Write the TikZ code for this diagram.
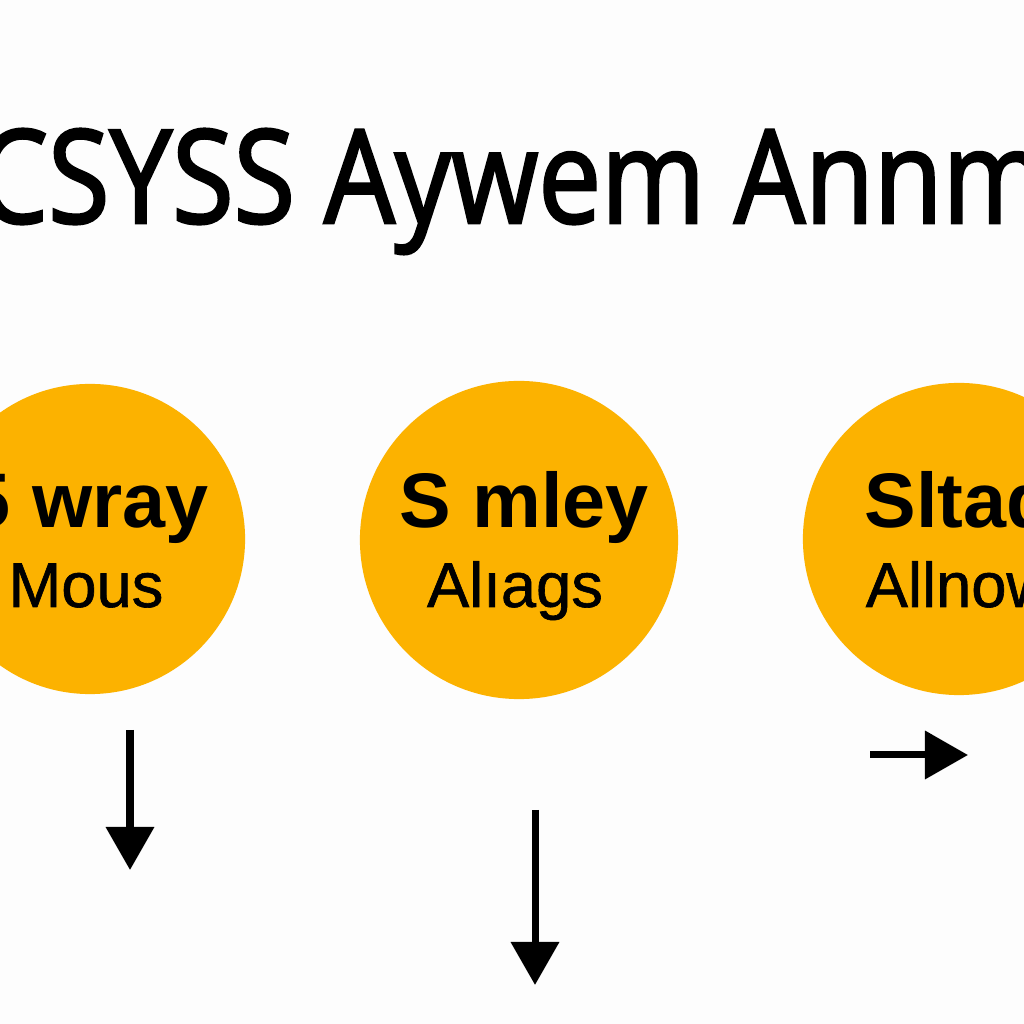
\documentclass[tikz,border=0pt]{standalone}
\usepackage{fontspec}
\usepackage{tikz}
\usetikzlibrary{arrows.meta, positioning}
\setmainfont{Liberation Sans}
\newfontfamily\titlefont{Open Sans}[FakeStretch=0.86, FakeBold=2]
\newfontfamily\subfont{Liberation Sans}[FakeBold=1]
\definecolor{stageamber}{RGB}{252,178,0}
\definecolor{pagewhite}{RGB}{253,253,253}

\begin{document}
\begin{tikzpicture}[
  x=0.01cm, y=0.01cm,
  stage/.style={circle, fill=stageamber, draw=none, inner sep=0pt},
  head/.style={font=\fontsize{22}{24}\selectfont\bfseries, anchor=base, inner sep=0pt},
  sub/.style={font=\subfont\fontsize{18}{20}\selectfont, anchor=base, inner sep=0pt},
  arrow/.style={-{Triangle[length=0.43cm, width=0.47cm]}, line width=0.07cm, black},
  title/.style={font=\titlefont\fontsize{37}{40}\selectfont, anchor=base, inner sep=0pt},
]
\useasboundingbox (0,0) rectangle (1024,1024);
\fill[pagewhite] (0,0) rectangle (1024,1024);
\clip (0,0) rectangle (1024,1024);

%% Title
\node[title] (title) at (512,801) {CSYSS Aywem Annm};

%% Stages
\node[stage, minimum size=3.10cm] (c1) at (90,485) {};
\node[stage, minimum size=3.18cm] (c2) at (519,484) {};
\node[stage, minimum size=3.12cm] (c3) at (959,485) {};

\node[head] (h1) at (88,496)  {5 wray};
\node[sub]  (s1) at (86,417)  {Mous};
\node[head] (h2) at (524,496) {S mley};
\node[sub]  (s2) at (515,417) {Alıags};
\node[head] (h3) at (959,496) {Sltad};
\node[sub]  (s3) at (959,417) {Allnow};

%% Arrows
\coordinate (a1) at (130,294);
\coordinate (b1) at (130,154);
\coordinate (a2) at (535,214);
\coordinate (b2) at (535,39);
\coordinate (a3) at (870,269);
\coordinate (b3) at (968,269);
\draw[arrow] (a1) -- (b1);
\draw[arrow] (a2) -- (b2);
\draw[arrow] (a3) -- (b3);

\end{tikzpicture}
\end{document}
